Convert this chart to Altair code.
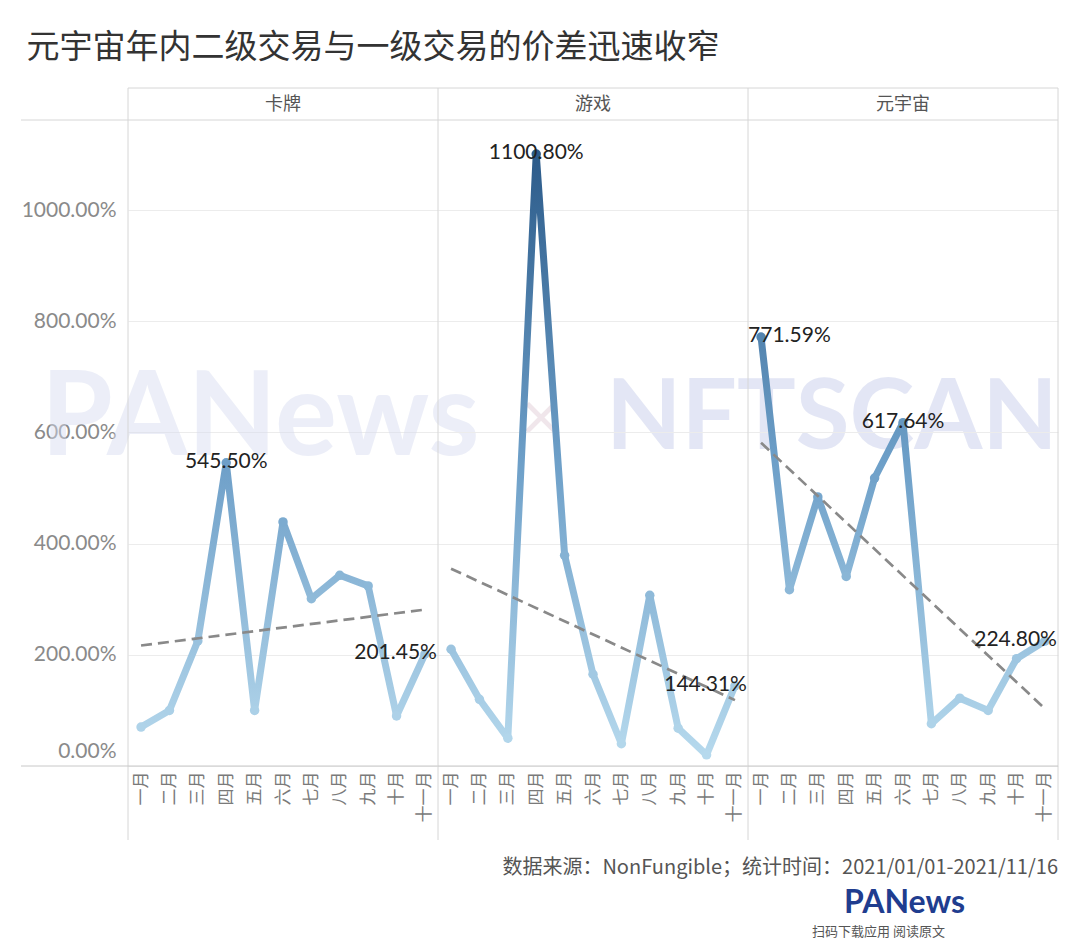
import altair as alt
import pandas as pd

# ---------------- data ----------------
months = ['一月', '二月', '三月', '四月', '五月', '六月', '七月', '八月', '九月', '十月', '十一月']
panels = ['卡牌', '游戏', '元宇宙']
card = [70, 100, 225, 545.50, 100, 439, 301, 343, 324, 90, 201.45]
game = [210, 120, 50, 1100.80, 379, 165, 40, 307, 68, 20, 144.31]
meta = [771.59, 317, 484, 341, 518, 617.64, 76, 122, 100, 193, 224.80]
labeled = {'卡牌': ['四月', '十一月'], '游戏': ['四月', '十一月'], '元宇宙': ['一月', '六月', '十一月']}
y_ticks = [0, 200, 400, 600, 800, 1000]

title_text = '元宇宙年内二级交易与一级交易的价差迅速收窄'
source_text = '数据来源：NonFungible；统计时间：2021/01/01-2021/11/16'

rows = []
for p, vals in zip(panels, [card, game, meta]):
    for i, (m, v) in enumerate(zip(months, vals)):
        rows.append(dict(panel=p, month=m, mi=i, v=v, lab=m in labeled[p]))
df = pd.DataFrame(rows)

# ---------------- styling ----------------
W, H = 310, 646
DOM = [0, 550, 1100]
RNG = ['#b9dbee', '#6d9fc8', '#2c5b8a']
CJK = 'Noto Sans CJK SC'
NUM = 'Lato'


def hex2rgb(h):
    return tuple(int(h[i:i + 2], 16) for i in (1, 3, 5))


def ramp(v):
    for i in range(len(DOM) - 1):
        if v <= DOM[i + 1] or i == len(DOM) - 2:
            t = (v - DOM[i]) / (DOM[i + 1] - DOM[i])
            t = max(0.0, min(1.0, t))
            a, b = hex2rgb(RNG[i]), hex2rgb(RNG[i + 1])
            return '#%02x%02x%02x' % tuple(round(a[k] + (b[k] - a[k]) * t) for k in range(3))


def grad(vals):
    lo, hi = min(vals), max(vals)
    pts = [lo] + [d for d in DOM if lo < d < hi] + [hi]
    stops = [alt.GradientStop(offset=(p - lo) / (hi - lo), color=ramp(p)) for p in pts]
    return alt.LinearGradient(gradient='linear', stops=stops, x1=0, x2=0, y1=1, y2=0)


month_js = '[' + ','.join("'%s'" % m for m in months) + ']'

X = alt.X('mi:Q', title=None,
          scale=alt.Scale(domain=[-0.46, 10.46], nice=False, zero=False),
          axis=alt.Axis(values=list(range(11)), labelExpr=month_js + '[datum.value]',
                        labelAngle=-90, grid=False, domain=False, ticks=False,
                        labelFontSize=17, labelColor='#7a7a7a', labelFont=CJK,
                        labelPadding=5, labelOverlap=False))
Y = alt.Y('v:Q', title=None,
          scale=alt.Scale(domain=[0, 1162], nice=False),
          axis=alt.Axis(values=y_ticks, labelExpr="format(datum.value, '.2f') + '%'",
                        grid=True, gridColor='#ececec', domain=False, ticks=False,
                        labelFontSize=21, labelColor='#8a8a8a', labelFont=NUM,
                        labelPadding=12, labelFlush=True, labelFlushOffset=-5))

base = alt.Chart()
one = base.transform_aggregate(n='count()', groupby=['panel'])
first = one.transform_filter(alt.datum.panel == panels[0])
last = one.transform_filter(alt.datum.panel == panels[-1])

layers = []

# watermark (faint, semi-transparent so labels beneath remain readable)
layers.append(first.mark_text(align='left', baseline='middle', fontSize=116, fontWeight='bold',
                              font=NUM, color='#d6dbf0', opacity=0.45).encode(
    x=alt.value(-87), y=alt.value(300), text=alt.value('PANews')))
layers.append(first.mark_text(align='center', baseline='middle', fontSize=70, fontWeight='normal',
                              font=NUM, color='#e2cfd8', opacity=0.5).encode(
    x=alt.value(413), y=alt.value(300), text=alt.value('×')))
layers.append(first.mark_text(align='left', baseline='middle', fontSize=98, fontWeight='bold',
                              font=NUM, color='#c9cfec', opacity=0.5).encode(
    x=alt.value(478), y=alt.value(300), text=alt.value('NFTSCAN')))

# frame rules
rule_c = '#d6d6d6'
layers.append(one.mark_rule(color=rule_c, strokeWidth=1).encode(
    x=alt.value(0), y=alt.value(-32), y2=alt.value(H + 74)))
layers.append(last.mark_rule(color=rule_c, strokeWidth=1).encode(
    x=alt.value(W), y=alt.value(-32), y2=alt.value(H + 74)))
layers.append(one.mark_rule(color=rule_c, strokeWidth=1).encode(
    x=alt.value(0), x2=alt.value(W), y=alt.value(-32)))
layers.append(one.mark_rule(color=rule_c, strokeWidth=1).encode(
    x=alt.value(0), x2=alt.value(W), y=alt.value(0)))
layers.append(one.mark_rule(color='#c8c8c8', strokeWidth=1).encode(
    x=alt.value(0), x2=alt.value(W), y=alt.value(H)))
layers.append(first.mark_rule(color=rule_c, strokeWidth=1).encode(
    x=alt.value(-107), x2=alt.value(0), y=alt.value(0)))
layers.append(first.mark_rule(color='#c8c8c8', strokeWidth=1).encode(
    x=alt.value(-107), x2=alt.value(0), y=alt.value(H)))

# gradient lines per panel
for p, vals in zip(panels, [card, game, meta]):
    layers.append(base.transform_filter(alt.datum.panel == p).mark_line(
        stroke=grad(vals), strokeWidth=7, strokeCap='round', strokeJoin='round').encode(x=X, y=Y))

# points
layers.append(base.mark_circle(size=90, opacity=1).encode(
    x=X, y=Y, color=alt.Color('v:Q', scale=alt.Scale(domain=DOM, range=RNG, interpolate='rgb'), legend=None)))

# trend lines
layers.append(base.transform_regression('mi', 'v', groupby=['panel']).mark_line(
    color='#898989', strokeDash=[11, 6], strokeWidth=2.7).encode(x=X, y=Y))

# value labels
lab = base.transform_filter('datum.lab').transform_calculate(txt="format(datum.v, '.2f') + '%'")
txt_style = dict(baseline='middle', fontSize=21, font=NUM, color='#222222', dy=-1)
layers.append(lab.transform_filter('datum.mi > 0 && datum.mi < 10').mark_text(align='center', **txt_style).encode(
    x=X, y=Y, text='txt:N'))
layers.append(lab.transform_filter('datum.mi == 0').mark_text(align='left', dx=-13, **txt_style).encode(
    x=X, y=Y, text='txt:N'))
layers.append(lab.transform_filter('datum.mi == 10').mark_text(align='right', dx=12, **txt_style).encode(
    x=X, y=Y, text='txt:N'))

# footer
layers.append(last.mark_text(align='right', baseline='middle', fontSize=20, font=CJK, color='#555555').encode(
    x=alt.value(W), y=alt.value(H + 102), text=alt.value(source_text)))
layers.append(last.mark_text(align='right', baseline='middle', fontSize=32, fontWeight='bold', font=NUM,
                             color='#1f3d8f').encode(
    x=alt.value(217), y=alt.value(H + 137), text=alt.value('PANews')))
layers.append(last.mark_text(align='right', baseline='middle', fontSize=13, font=CJK, color='#555555').encode(
    x=alt.value(197), y=alt.value(H + 166), text=alt.value('扫码下载应用 阅读原文')))

chart = alt.layer(*layers).properties(width=W, height=H).facet(
    column=alt.Column('panel:N', sort=panels, title=None,
                      header=alt.Header(labelFontSize=18, labelColor='#555555', labelFont=CJK,
                                        labelPadding=6)),
    data=df, spacing=0, bounds='flush'
).properties(
    title=alt.TitleParams(text=title_text, anchor='start', fontSize=33, font=CJK, fontWeight='normal',
                          color='#333333', dx=6, offset=23),
    padding={'left': 12, 'top': 23, 'right': 8, 'bottom': 0}
).configure_view(strokeWidth=0)

chart.save('out.html', embed_options={'renderer': 'svg', 'actions': False})
